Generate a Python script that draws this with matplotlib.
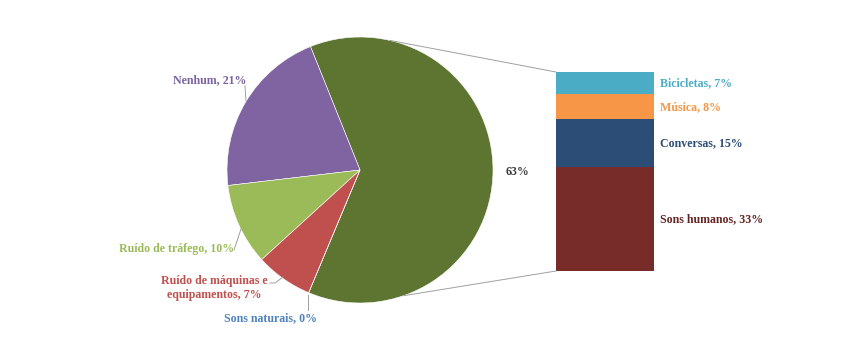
import numpy as np
import matplotlib
matplotlib.use("Agg")
import matplotlib.pyplot as plt

# pie data
pie_labels = ["", "Nenhum, 21%", "Ruído de tráfego, 10%",
              "Ruído de máquinas e\nequipamentos, 7%", "Sons naturais, 0%"]
pie_values = [63, 21, 10, 7, 0]
pie_colors = ["#5E7532", "#8064A2", "#9BBB59", "#C0504D", "#4F81BD"]
pie_text_colors = ["#404040", "#7A63A0", "#9BBB59", "#C0504D", "#4F81BD"]

# bar data (breakdown of the 63% slice), bottom to top
bar_labels = ["Sons humanos, 33%", "Conversas, 15%", "Música, 8%", "Bicicletas, 7%"]
bar_values = [33, 15, 8, 7]
bar_colors = ["#772C2A", "#2C4D75", "#F79646", "#4BACC6"]
bar_text_colors = ["#632523", "#2C4D75", "#F79646", "#4BACC6"]

W, H = 866, 339
fig = plt.figure(figsize=(W / 100, H / 100), dpi=100)
ax = fig.add_axes([0, 0, 1, 1])

font = dict(family="Liberation Serif", fontweight="bold", fontsize=8.6)

cx, cy, r = 360, 339 - 170, 133
wedges, _ = ax.pie(pie_values, colors=pie_colors, startangle=-112.7,
                   center=(cx, cy), radius=r, frame=True,
                   wedgeprops=dict(edgecolor="white", linewidth=0.4))
ax.set_xlim(0, W)
ax.set_ylim(0, H)
ax.set_aspect("equal")
ax.axis("off")

# pie labels
ax.text(517, 339 - 172, "63%", color=pie_text_colors[0], ha="center", va="center", **font)
ax.text(210, 339 - 80, pie_labels[1], color=pie_text_colors[1], ha="center", va="center", **font)
ax.plot([245, 246], [339 - 86, 339 - 101], color="#A0A0A0", lw=0.7)
ax.text(177, 339 - 249, pie_labels[2], color=pie_text_colors[2], ha="center", va="center", **font)
ax.plot([234, 241], [339 - 250, 339 - 229], color="#A0A0A0", lw=0.7)
ax.text(214, 339 - 288, pie_labels[3], color=pie_text_colors[3], ha="center", va="center",
        linespacing=1.2, **font)
ax.plot([270, 275, 283], [339 - 283, 339 - 283, 339 - 277], color="#A0A0A0", lw=0.7)
ax.text(271, 339 - 318, pie_labels[4], color=pie_text_colors[4], ha="center", va="center", **font)
ax.plot([308, 308], [339 - 295, 339 - 310], color="#A0A0A0", lw=0.7)

# stacked bar
bx, bw = 605, 98
bar_bottom, bar_top = 339 - 271, 339 - 72
scale = (bar_top - bar_bottom) / sum(bar_values)
bottoms = bar_bottom + np.concatenate([[0], np.cumsum(bar_values)[:-1]]) * scale
heights = np.array(bar_values) * scale
ax.bar(bx, heights, width=bw, bottom=bottoms, color=bar_colors, edgecolor="none")
for lab, b, h, c in zip(bar_labels, bottoms, heights, bar_text_colors):
    ax.text(bx + bw / 2 + 6, b + h / 2, lab, color=c, ha="left", va="center", **font)

# connector lines
for ang, yb in [(77, bar_top), (-71, bar_bottom)]:
    a = np.deg2rad(ang)
    ax.plot([cx + r * np.cos(a), bx - bw / 2], [cy + r * np.sin(a), yb],
            color="#A0A0A0", lw=0.7)

fig.savefig("out.png", dpi=100, facecolor="white")
